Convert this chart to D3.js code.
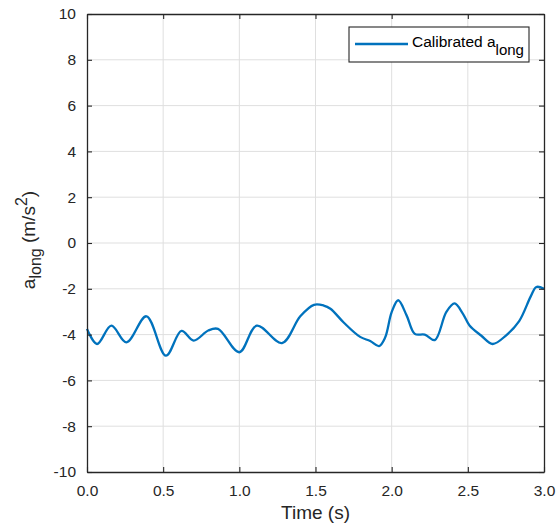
<!DOCTYPE html>
<html>
<head>
<meta charset="utf-8">
<script src="https://cdn.jsdelivr.net/npm/d3@7"></script>
<style>
  body { margin: 0; background: #fff; }
  svg { font-family: "Liberation Sans", Arial, sans-serif; }
</style>
</head>
<body>
<svg id="chart"></svg>
<script>
// values
var times = [0, 0.066, 0.16, 0.259, 0.39, 0.518, 0.62, 0.70, 0.796, 0.86, 1.0, 1.114, 1.28, 1.40, 1.49, 1.554, 1.598, 1.685, 1.793, 1.859, 1.917, 1.957, 2.0, 2.043, 2.098, 2.152, 2.217, 2.283, 2.359, 2.413, 2.467, 2.511, 2.587, 2.663, 2.75, 2.837, 2.913, 2.95, 3.0];
var along = [-3.75, -4.41, -3.61, -4.34, -3.2, -4.92, -3.84, -4.26, -3.82, -3.75, -4.77, -3.61, -4.37, -3.2, -2.7, -2.73, -2.87, -3.47, -4.1, -4.28, -4.5, -4.13, -3.02, -2.5, -3.16, -3.97, -4.0, -4.24, -3.01, -2.64, -3.08, -3.6, -4.04, -4.41, -4.04, -3.41, -2.33, -1.92, -2.0];
var xTicks = [0, 0.5, 1, 1.5, 2, 2.5, 3];
var yTicks = [-10, -8, -6, -4, -2, 0, 2, 4, 6, 8, 10];

var width = 556, height = 526;
var margin = {left: 87, right: 12, top: 14, bottom: 54};
var axisColor = "#262626";

var svg = d3.select("#chart").attr("width", width).attr("height", height);

var x = d3.scaleLinear().domain([0, 3]).range([margin.left, width - margin.right]);
var y = d3.scaleLinear().domain([-10, 10]).range([height - margin.bottom, margin.top]);

// grid
svg.append("g").selectAll("line")
  .data(xTicks.slice(1, -1)).enter().append("line")
  .attr("x1", d => x(d)).attr("x2", d => x(d))
  .attr("y1", y(-10)).attr("y2", y(10))
  .attr("stroke", "#dfdfdf").attr("stroke-width", 1);
svg.append("g").selectAll("line")
  .data(yTicks.slice(1, -1)).enter().append("line")
  .attr("y1", d => y(d)).attr("y2", d => y(d))
  .attr("x1", x(0)).attr("x2", x(3))
  .attr("stroke", "#dfdfdf").attr("stroke-width", 1);

// the curve
var line = d3.line()
  .x(d => x(d[0])).y(d => y(d[1]))
  .curve(d3.curveCatmullRom.alpha(0.5));
svg.append("path")
  .datum(d3.zip(times, along))
  .attr("d", line)
  .attr("fill", "none")
  .attr("stroke", "#0072BD")
  .attr("stroke-width", 2.3);

// axes, ticks inside like matlab
var tick = 5;
var xAxis = d3.axisBottom(x).tickValues(xTicks).tickSizeInner(-tick).tickSizeOuter(0).tickPadding(13).tickFormat(d3.format(".1f"));
var yAxis = d3.axisLeft(y).tickValues(yTicks).tickSizeInner(-tick).tickSizeOuter(0).tickPadding(11).tickFormat(d => String(d));

var gx = svg.append("g").attr("transform", "translate(0," + y(-10) + ")").call(xAxis);
var gy = svg.append("g").attr("transform", "translate(" + x(0) + ",0)").call(yAxis);
var gx2 = svg.append("g").attr("transform", "translate(0," + y(10) + ")").call(d3.axisTop(x).tickValues(xTicks).tickSizeInner(-tick).tickSizeOuter(0).tickFormat(""));
var gy2 = svg.append("g").attr("transform", "translate(" + x(3) + ",0)").call(d3.axisRight(y).tickValues(yTicks).tickSizeInner(-tick).tickSizeOuter(0).tickFormat(""));

[gx, gy, gx2, gy2].forEach(function(g) {
  g.select(".domain").attr("stroke", axisColor).attr("stroke-width", 1.3);
  g.selectAll(".tick line").attr("stroke", axisColor).attr("stroke-width", 1.1);
  g.selectAll("text").attr("fill", axisColor).style("font-size", "15.5px");
});
gx.selectAll("text").attr("dy", "0.71em");

// axis labels
svg.append("text")
  .attr("x", (x(0) + x(3)) / 2).attr("y", 519)
  .attr("text-anchor", "middle")
  .attr("fill", axisColor)
  .style("font-size", "19px")
  .text("Time (s)");

var ylab = svg.append("text")
  .attr("transform", "translate(35,240) rotate(-90)")
  .attr("text-anchor", "middle")
  .attr("fill", axisColor)
  .style("font-size", "19px");
ylab.append("tspan").text("a");
ylab.append("tspan").attr("dy", 6).style("font-size", "16px").text("long");
ylab.append("tspan").attr("dy", -6).text(" (m/s");
ylab.append("tspan").attr("dy", -8).style("font-size", "16px").text("2");
ylab.append("tspan").attr("dy", 8).text(")");

// legend
var lg = svg.append("g").attr("transform", "translate(349,27)");
lg.append("rect")
  .attr("width", 180).attr("height", 35)
  .attr("fill", "#fff").attr("stroke", axisColor).attr("stroke-width", 1.1);
lg.append("line")
  .attr("x1", 6).attr("x2", 59).attr("y1", 17).attr("y2", 17)
  .attr("stroke", "#0072BD").attr("stroke-width", 2.3);
var lt = lg.append("text")
  .attr("x", 63).attr("y", 20)
  .attr("fill", "#000")
  .style("font-size", "15.5px");
lt.append("tspan").text("Calibrated a");
lt.append("tspan").attr("dy", 8).style("font-size", "15px").text("long");
</script>
</body>
</html>
